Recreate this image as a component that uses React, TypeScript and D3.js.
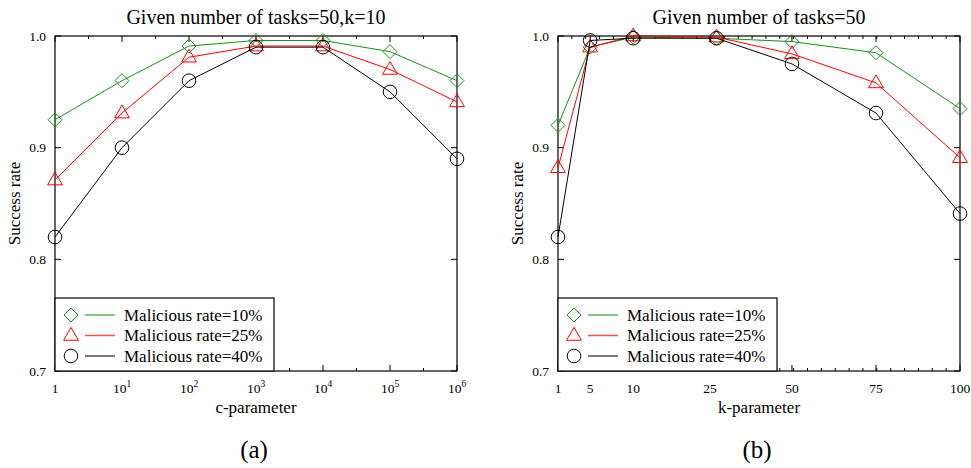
import React, { useEffect, useRef } from "react"
import * as d3 from "d3"

// c-parameter sweep (panel a)
const cValues = [1, 10, 100, 1000, 10000, 100000, 1000000]
const cRate10 = [0.925, 0.96, 0.991, 0.996, 0.996, 0.986, 0.96]
const cRate25 = [0.871, 0.931, 0.981, 0.991, 0.991, 0.97, 0.941]
const cRate40 = [0.82, 0.9, 0.96, 0.99, 0.99, 0.95, 0.89]

// k-parameter sweep (panel b)
const kValues = [1, 5, 10, 27, 50, 75, 100]
const kRate10 = [0.92, 0.99, 0.999, 0.998, 0.995, 0.985, 0.935]
const kRate25 = [0.882, 0.99, 1.0, 0.999, 0.984, 0.958, 0.891]
const kRate40 = [0.82, 0.996, 0.998, 0.998, 0.975, 0.931, 0.841]

const kTicks = [1, 5, 10, 25, 50, 75, 100]
const yTicks = [0.7, 0.8, 0.9, 1.0]
const seriesNames = ["Malicious rate=10%", "Malicious rate=25%", "Malicious rate=40%"]

const FONT = "Liberation Serif, Times New Roman, DejaVu Serif, serif"
const colors = ["#169016", "#ff0000", "#000000"]
const shapes = ["diamond", "triangle", "circle"]

const W = 971
const H = 468
const top = 36
const bottom = 371
const plotW = 402

function drawMarker(g, shape, x, y, color) {
  if (shape === "circle") {
    g.append("circle").attr("cx", x).attr("cy", y).attr("r", 6.8)
      .attr("fill", "none").attr("stroke", color).attr("stroke-width", 1)
  } else if (shape === "diamond") {
    const s = 7
    g.append("path")
      .attr("d", `M${x},${y - s}L${x + s},${y}L${x},${y + s}L${x - s},${y}Z`)
      .attr("fill", "none").attr("stroke", color).attr("stroke-width", 1)
  } else {
    g.append("path")
      .attr("d", d3.symbol().type(d3.symbolTriangle).size(95)())
      .attr("transform", `translate(${x},${y + 0.5})`)
      .attr("fill", "none").attr("stroke", color).attr("stroke-width", 1)
  }
}

function label(g, x, y, size, str) {
  return g.append("text").attr("x", x).attr("y", y)
    .style("font-family", FONT).style("font-size", size + "px").text(str)
}

function drawPanel(svg, opts) {
  const { x0, title, xlabel, tag, xScale, xs, series, majorTicks, minorTicks, tickLabel } = opts
  const x1 = x0 + plotW
  const y = d3.scaleLinear().domain([0.7, 1.0]).range([bottom, top])
  const g = svg.append("g")

  // frame
  g.append("rect").attr("x", x0).attr("y", top).attr("width", plotW).attr("height", bottom - top)
    .attr("fill", "none").attr("stroke", "#000").attr("stroke-width", 1.2)

  // y ticks, mirrored inward
  yTicks.forEach(t => {
    const yy = y(t)
    g.append("line").attr("x1", x0).attr("x2", x0 + 6).attr("y1", yy).attr("y2", yy).attr("stroke", "#000")
    g.append("line").attr("x1", x1).attr("x2", x1 - 6).attr("y1", yy).attr("y2", yy).attr("stroke", "#000")
    label(g, x0 - 9, yy + 4.5, 13.5, d3.format(".1f")(t)).attr("text-anchor", "end")
  })

  // x ticks
  majorTicks.forEach(t => {
    const xx = xScale(t)
    g.append("line").attr("x1", xx).attr("x2", xx).attr("y1", bottom).attr("y2", bottom - 6).attr("stroke", "#000")
    g.append("line").attr("x1", xx).attr("x2", xx).attr("y1", top).attr("y2", top + 6).attr("stroke", "#000")
    tickLabel(label(g, xx, 393, 13.5, null).attr("text-anchor", "middle"), t)
  })
  minorTicks.forEach(xx => {
    g.append("line").attr("x1", xx).attr("x2", xx).attr("y1", bottom).attr("y2", bottom - 3).attr("stroke", "#000")
    g.append("line").attr("x1", xx).attr("x2", xx).attr("y1", top).attr("y2", top + 3).attr("stroke", "#000")
  })

  // series
  const line = d3.line().x(d => xScale(d[0])).y(d => y(d[1]))
  series.forEach((vals, i) => {
    const pts = xs.map((v, j) => [v, vals[j]])
    g.append("path").attr("d", line(pts)).attr("fill", "none").attr("stroke", colors[i]).attr("stroke-width", 1)
    pts.forEach(p => drawMarker(g, shapes[i], xScale(p[0]), y(p[1]), colors[i]))
  })

  // legend
  g.append("rect").attr("x", x0).attr("y", 298).attr("width", 219).attr("height", bottom - 298)
    .attr("fill", "#fff").attr("stroke", "#000").attr("stroke-width", 1.2)
  seriesNames.forEach((name, i) => {
    const ly = 315 + i * 20.5
    drawMarker(g, shapes[i], x0 + 16, ly, colors[i])
    g.append("line").attr("x1", x0 + 30).attr("x2", x0 + 60).attr("y1", ly).attr("y2", ly)
      .attr("stroke", colors[i]).attr("stroke-width", 1.5).attr("stroke-opacity", 0.7)
    label(g, x0 + 69, ly + 5.5, 17, name)
  })

  // titles
  const cx = (x0 + x1) / 2
  label(g, cx, 24, 20, title).attr("text-anchor", "middle")
  label(g, cx, 413, 17, xlabel).attr("text-anchor", "middle")
  label(g, 0, 0, 17, "Success rate").attr("text-anchor", "middle")
    .attr("transform", `translate(${x0 - 35},${(top + bottom) / 2}) rotate(-90)`)
  label(g, cx - 2, 458, 25, tag).attr("text-anchor", "middle")
}

export default function App() {
  const ref = useRef(null)

  useEffect(() => {
    const svg = d3.select(ref.current)
    svg.selectAll("*").remove()

    // panel (a): log c axis
    const cx0 = 55
    const cScale = d3.scaleLog().domain([1, 1e6]).range([cx0, cx0 + plotW])
    drawPanel(svg, {
      x0: cx0,
      title: "Given number of tasks=50,k=10",
      xlabel: "c-parameter",
      tag: "(a)",
      xScale: cScale,
      xs: cValues,
      series: [cRate10, cRate25, cRate40],
      majorTicks: cValues,
      minorTicks: d3.range(0.5, 6, 1).map(e => cScale(Math.pow(10, e))),
      tickLabel: (t, v) => {
        if (v === 1) { t.text("1"); return }
        t.append("tspan").text("10")
        t.append("tspan").style("font-size", "9.5px").attr("dy", -6).text(String(Math.round(Math.log10(v))))
      },
    })

    // panel (b): k axis with uneven tick spacing
    const kx0 = 558
    const kStops = [0, 0.08, 0.187, 0.378, 0.582, 0.791, 1]
    const kScale = d3.scaleLinear().domain(kTicks).range(kStops.map(f => kx0 + f * plotW))
    const minorIdx = d3.scaleLinear().domain([0, 29]).range([kx0, kx0 + plotW])
    drawPanel(svg, {
      x0: kx0,
      title: "Given number of tasks=50",
      xlabel: "k-parameter",
      tag: "(b)",
      xScale: kScale,
      xs: kValues,
      series: [kRate10, kRate25, kRate40],
      majorTicks: kTicks,
      minorTicks: d3.range(1, 29).map(i => minorIdx(i)),
      tickLabel: (t, v) => t.text(String(v)),
    })
  }, [])

  return (
    <svg ref={ref} width={W} height={H}
      style={{ position: "absolute", left: 0, top: 0, background: "#fff" }} />
  )
}
